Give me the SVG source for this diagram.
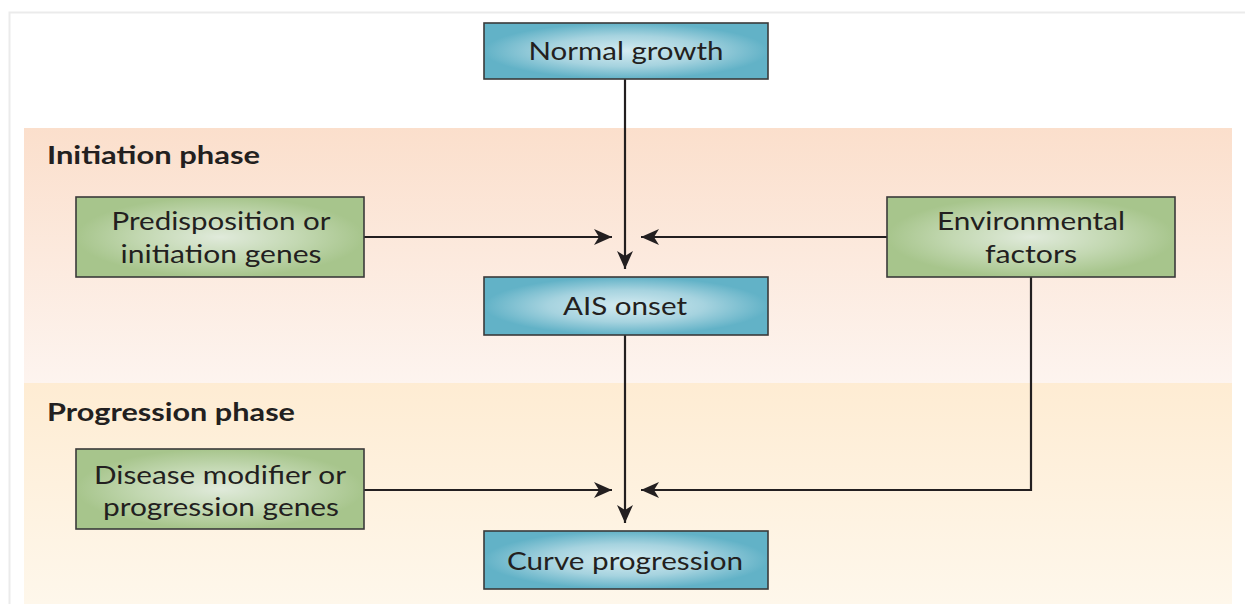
<svg xmlns="http://www.w3.org/2000/svg" width="1245" height="604" viewBox="0 0 1245 604">
<style>
.box{stroke:#3a3a3a;stroke-width:1.6}
.blue{fill:url(#gBlue)}
.green{fill:url(#gGreen)}
.lbl{font-family:Lato,"Open Sans",sans-serif;font-size:25px;fill:#231f20;text-anchor:middle}
.hdr{font-family:Lato,"Open Sans",sans-serif;font-size:24px;font-weight:bold;fill:#231f20}
.conn{fill:none;stroke:#231f20;stroke-width:2.2}
</style>
<defs>
<linearGradient id="gInit" x1="0" y1="0" x2="0" y2="1">
<stop offset="0" stop-color="#fbdfcc"/>
<stop offset="1" stop-color="#fdf4ef"/>
</linearGradient>
<linearGradient id="gProg" x1="0" y1="0" x2="0" y2="1">
<stop offset="0" stop-color="#feecd3"/>
<stop offset="1" stop-color="#fef7eb"/>
</linearGradient>
<radialGradient id="gBlue" cx="0.5" cy="0.5" r="0.5">
<stop offset="0" stop-color="#d4ebf1"/>
<stop offset="0.55" stop-color="#a6d3df"/>
<stop offset="1" stop-color="#62b2c7"/>
</radialGradient>
<radialGradient id="gGreen" cx="0.5" cy="0.5" r="0.5">
<stop offset="0" stop-color="#e0eadb"/>
<stop offset="0.55" stop-color="#c3d8b2"/>
<stop offset="1" stop-color="#a7c58c"/>
</radialGradient>
<marker id="arr" viewBox="0 0 18 16" refX="18" refY="8" markerWidth="18" markerHeight="16" markerUnits="userSpaceOnUse" orient="auto">
<path d="M0,0 L18,8 L0,16 L5,8 z" fill="#231f20"/>
</marker>
</defs>

<g id="frame">
<path d="M9.5,604 V12.5 H1245" fill="none" stroke="#ebebeb" stroke-width="2"/>
</g>

<g id="initiation-band">
<rect x="24" y="128" width="1208" height="255" fill="url(#gInit)"/>
<text class="hdr" x="47" y="164" textLength="213" lengthAdjust="spacingAndGlyphs">Initiation phase</text>
</g>
<g id="progression-band">
<rect x="24" y="383" width="1208" height="221" fill="url(#gProg)"/>
<text class="hdr" x="47" y="421" textLength="248" lengthAdjust="spacingAndGlyphs">Progression phase</text>
</g>

<g id="connectors">
<path class="conn" d="M625,79 V269" marker-end="url(#arr)"/>
<path class="conn" d="M364,237 H612" marker-end="url(#arr)"/>
<path class="conn" d="M887,237 H641" marker-end="url(#arr)"/>
<path class="conn" d="M625,335 V523" marker-end="url(#arr)"/>
<path class="conn" d="M364,490 H612" marker-end="url(#arr)"/>
<path class="conn" d="M1031,277 V490 H641" marker-end="url(#arr)"/>
</g>

<g id="normal-growth">
<rect class="box blue" x="484" y="23" width="284" height="56"/>
<text class="lbl" x="626" y="60" textLength="195" lengthAdjust="spacingAndGlyphs">Normal growth</text>
</g>
<g id="predisposition-genes">
<rect class="box green" x="76" y="197" width="288" height="80"/>
<text class="lbl" x="221" y="230" textLength="219" lengthAdjust="spacingAndGlyphs">Predisposition or</text>
<text class="lbl" x="221" y="263" textLength="201" lengthAdjust="spacingAndGlyphs">initiation genes</text>
</g>
<g id="environmental-factors">
<rect class="box green" x="887" y="197" width="288" height="80"/>
<text class="lbl" x="1031" y="230" textLength="188" lengthAdjust="spacingAndGlyphs">Environmental</text>
<text class="lbl" x="1031" y="263" textLength="92" lengthAdjust="spacingAndGlyphs">factors</text>
</g>
<g id="ais-onset">
<rect class="box blue" x="484" y="277" width="284" height="58"/>
<text class="lbl" x="625" y="315" textLength="124" lengthAdjust="spacingAndGlyphs">AIS onset</text>
</g>
<g id="disease-modifier-genes">
<rect class="box green" x="76" y="449" width="288" height="80"/>
<text class="lbl" x="220" y="484" textLength="252" lengthAdjust="spacingAndGlyphs">Disease modifier or</text>
<text class="lbl" x="221" y="516" textLength="236" lengthAdjust="spacingAndGlyphs">progression genes</text>
</g>
<g id="curve-progression">
<rect class="box blue" x="484" y="531" width="284" height="58"/>
<text class="lbl" x="625" y="570" textLength="236" lengthAdjust="spacingAndGlyphs">Curve progression</text>
</g>
</svg>
